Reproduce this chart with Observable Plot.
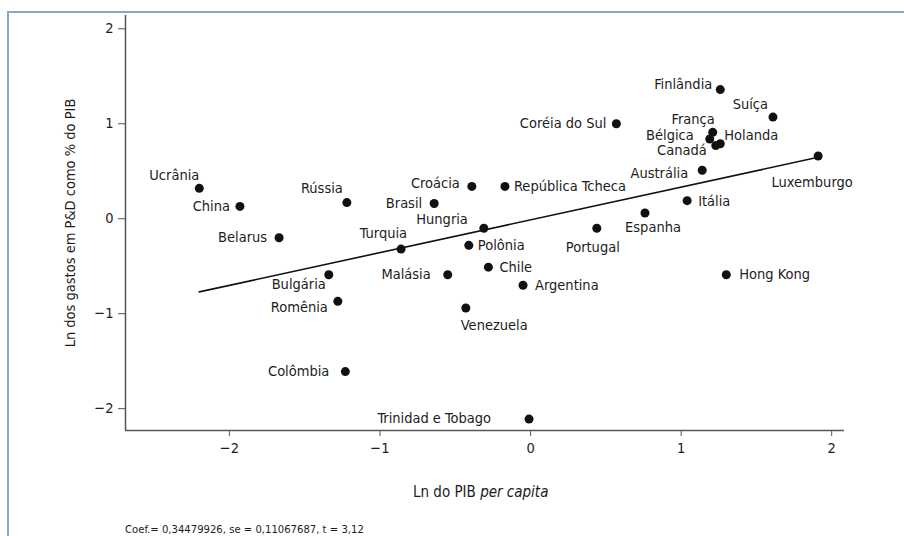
<!DOCTYPE html>
<html lang="pt-BR">
<head>
<meta charset="utf-8">
<script src="https://cdn.jsdelivr.net/npm/d3@7"></script>
<script src="https://cdn.jsdelivr.net/npm/@observablehq/plot@0.6"></script>
<style>
  html, body { margin: 0; padding: 0; background: #fff; }
  body { width: 904px; height: 536px; position: relative; overflow: hidden;
         font-family: "Liberation Sans Narrow", "Arial Narrow", "DejaVu Sans Condensed", sans-serif; color: #1e1c1d; }
  #moldura { position: absolute; left: 7px; top: 11px; width: 1000px; height: 1000px;
             border-top: 2px solid #8aa6c6; border-left: 2px solid #8aa6c6; }
  #grafico { position: absolute; left: 0; top: 0; }
  #rotuloX { position: absolute; left: 413px; top: 483px; font-size: 15px; white-space: nowrap; }
  #nota { position: absolute; left: 125px; top: 523px; font-size: 11.2px; white-space: nowrap; }
</style>
</head>
<body>
<div id="moldura"></div>
<div id="grafico"></div>
<div id="rotuloX">Ln do PIB <i>per capita</i></div>
<div id="nota">Coef.= 0,34479926, se = 0,11067687, t = 3,12</div>
<script>
// Países e valores: ln do PIB per capita (x) e ln dos gastos em P&D como % do PIB (y)
const paises = ["Ucrânia", "China", "Belarus", "Rússia", "Bulgária", "Romênia", "Colômbia",
  "Turquia", "Brasil", "Croácia", "Hungria", "Polônia", "Malásia", "Chile", "Argentina",
  "Venezuela", "Trinidad e Tobago", "República Tcheca", "Coréia do Sul", "Portugal", "Espanha",
  "Austrália", "Itália", "Finlândia", "Suíça", "França", "Bélgica", "Holanda", "Canadá",
  "Luxemburgo", "Hong Kong"];
const lnPib = [-2.20, -1.93, -1.67, -1.22, -1.34, -1.28, -1.23,
  -0.86, -0.64, -0.39, -0.31, -0.41, -0.55, -0.28, -0.05,
  -0.43, -0.01, -0.17, 0.57, 0.44, 0.76,
  1.14, 1.04, 1.26, 1.61, 1.21, 1.19, 1.26, 1.23,
  1.91, 1.30];
const lnPD = [0.32, 0.13, -0.20, 0.17, -0.59, -0.87, -1.61,
  -0.32, 0.16, 0.34, -0.10, -0.28, -0.59, -0.51, -0.70,
  -0.94, -2.11, 0.34, 1.00, -0.10, 0.06,
  0.51, 0.19, 1.36, 1.07, 0.91, 0.84, 0.79, 0.77,
  0.66, -0.59];

// Regressão: coeficiente informado na nota e intercepto
const coef = 0.34479926;
const intercepto = -0.012;

const ticksX = [-2, -1, 0, 1, 2];
const ticksY = [-2, -1, 0, 1, 2];
const tituloY = "Ln dos gastos em P&D como % do PIB";

// Posição de cada rótulo em relação ao ponto: [âncora, dx, dy]
const posicao = {
  "Ucrânia": ["end", 0, -13], "China": ["end", -10, 0], "Belarus": ["end", -12, 0],
  "Rússia": ["end", -4, -14], "Bulgária": ["end", -3, 10], "Romênia": ["end", -10, 6],
  "Colômbia": ["end", -16, 0], "Turquia": ["end", 6, -16], "Brasil": ["end", -12, 0],
  "Croácia": ["end", -12, -3], "Hungria": ["end", -16, -9], "Polônia": ["start", 9, 0],
  "Malásia": ["end", -17, 0], "Chile": ["start", 11, 0], "Argentina": ["start", 12, 0],
  "Venezuela": ["start", -5, 17], "Trinidad e Tobago": ["end", -38, -1],
  "República Tcheca": ["start", 9, 0], "Coréia do Sul": ["end", -10, 0],
  "Portugal": ["middle", -4, 19], "Espanha": ["middle", 8, 14], "Austrália": ["end", -14, 3],
  "Itália": ["start", 11, 1], "Finlândia": ["end", -8, -5], "Suíça": ["end", -5, -13],
  "França": ["end", 2, -13], "Bélgica": ["end", -16, -4], "Holanda": ["start", 4, -8],
  "Canadá": ["end", -9, 5], "Luxemburgo": ["middle", -6, 26], "Hong Kong": ["start", 13, 0]
};

const dados = paises.map((p, i) => ({pais: p, x: lnPib[i], y: lnPD[i]}));
const extX = d3.extent(lnPib);
const reta = extX.map(x => ({x, y: intercepto + coef * x}));

const dominioX = [-2.69, 2.085];
const dominioY = [-2.23, 2.14];

const rotulos = dados.map(d => {
  const [ancora, dx, dy] = posicao[d.pais];
  return Plot.text([d], {x: "x", y: "y", text: "pais", textAnchor: ancora, dx, dy,
    fill: "#1e1c1d", fontSize: 14.5});
});

const grafico = Plot.plot({
  width: 904,
  height: 470,
  marginLeft: 125,
  marginRight: 60,
  marginTop: 15,
  marginBottom: 40,
  style: {fontFamily: '"Liberation Sans Narrow", "Arial Narrow", "DejaVu Sans Condensed", sans-serif',
          fontSize: "14.5px", color: "#1e1c1d", background: "transparent", overflow: "visible"},
  x: {domain: dominioX},
  y: {domain: dominioY},
  marks: [
    Plot.axisX(ticksX, {tickSize: 6, tickPadding: 6, stroke: "#555", fontSize: 14.5, label: null, tickFormat: "d"}),
    Plot.axisY(ticksY, {tickSize: 7, tickPadding: 5, stroke: "#555", fontSize: 14.5, label: null, tickFormat: "d"}),
    Plot.ruleX([dominioX[0]], {stroke: "#555", strokeWidth: 1.5}),
    Plot.ruleY([dominioY[0]], {stroke: "#555", strokeWidth: 1.5}),
    Plot.text([tituloY], {frameAnchor: "left", textAnchor: "middle", dx: -55, rotate: -90, fontSize: 14.5, fill: "#1e1c1d"}),
    Plot.line(reta, {x: "x", y: "y", stroke: "#111", strokeWidth: 1.6}),
    Plot.dot(dados, {x: "x", y: "y", r: 4.5, fill: "#111", stroke: "none"}),
    ...rotulos
  ]
});
document.getElementById("grafico").appendChild(grafico);
</script>
</body>
</html>
